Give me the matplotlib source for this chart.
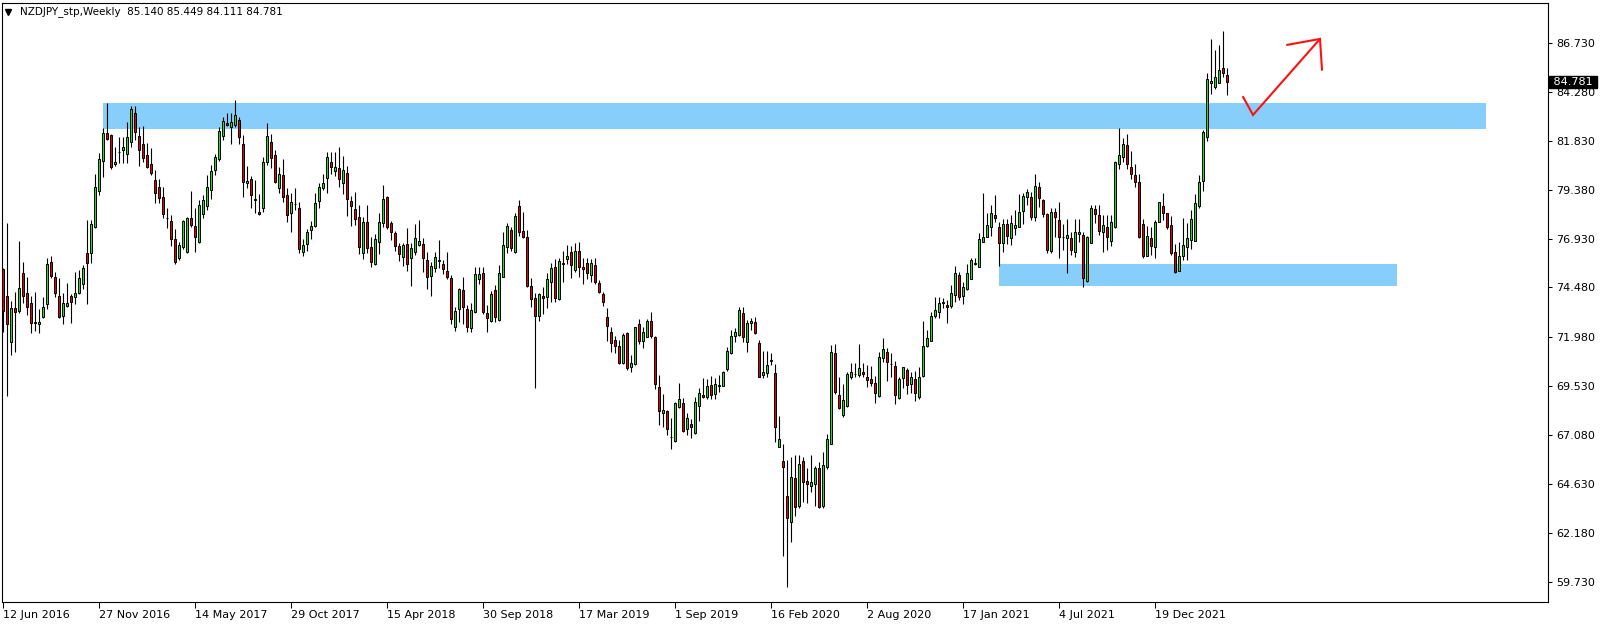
import matplotlib
matplotlib.use("Agg")
import matplotlib.pyplot as plt
from matplotlib.patches import Rectangle
import matplotlib.transforms as mtransforms

# ---------------------------------------------------------------
# datos: velas semanales NZDJPY
# ---------------------------------------------------------------
symbol = "NZDJPY_stp,Weekly"
last_ohlc = ["85.140", "85.449", "84.111", "84.781"]

opens = [
    75.39, 74.05, 71.73, 73.44, 73.32, 75.19, 74.19, 73.69, 72.74, 72.63,
    73.02, 73.64, 75.74, 74.99, 74.07, 73.07, 73.57, 74.07, 73.99, 74.22,
    74.64, 76.19, 76.22, 77.49, 79.33, 80.79, 82.20, 82.12, 80.65, 81.25,
    81.37, 81.17, 81.75, 83.21, 82.07, 81.67, 81.10, 80.67, 79.87, 79.53,
    79.00, 77.97, 77.83, 76.89, 75.94, 76.49, 76.24, 77.94, 77.56, 76.78,
    78.16, 78.56, 79.35, 80.37, 80.90, 82.09, 82.70, 82.54, 82.62, 82.85,
    81.65, 79.70, 79.90, 78.85, 78.25, 78.45, 80.75, 81.75, 81.10, 79.45,
    80.12, 79.10, 78.20, 78.65, 78.45, 76.24, 76.64, 77.35, 77.56, 78.82,
    79.45, 79.95, 80.75, 80.33, 80.45, 79.73, 80.20, 78.81, 78.40, 78.00,
    76.19, 77.75, 76.49, 75.64, 76.78, 77.70, 79.00, 77.70, 77.19, 76.56,
    75.98, 76.66, 75.94, 76.28, 76.61, 76.66, 75.86, 75.06, 75.44, 75.84,
    75.66, 75.31, 74.94, 72.52, 73.39, 74.36, 73.39, 72.47, 73.27, 74.89,
    75.19, 73.19, 72.82, 74.36, 72.85, 75.02, 76.49, 77.36, 76.24, 78.58,
    77.31, 76.99, 74.56, 73.94, 73.07, 74.06, 73.99, 74.74, 75.49, 73.89,
    75.72, 75.89, 76.26, 75.34, 76.31, 75.49, 75.69, 75.09, 75.59, 74.69,
    74.16, 73.00, 72.27, 71.85, 71.55, 70.68, 72.18, 70.47, 70.63, 72.64,
    71.80, 72.02, 72.80, 71.98, 69.48, 68.21, 68.29, 67.01, 66.79, 68.48,
    68.71, 67.38, 67.63, 67.19, 68.54, 69.09, 68.98, 69.60, 69.13, 69.53,
    69.56, 70.40, 71.18, 72.07, 72.10, 73.19, 71.77, 72.69, 72.77, 71.68,
    70.10, 70.18, 70.81, 70.18, 66.51, 65.79, 64.03, 62.71, 64.92, 63.55,
    65.77, 64.79, 64.54, 64.62, 65.42, 63.55, 65.50, 66.64, 71.18, 69.10,
    68.08, 68.56, 70.01, 70.16, 70.10, 70.23, 70.01, 69.88, 69.68, 69.04,
    70.93, 71.27, 70.63, 70.55, 68.93, 69.93, 70.35, 69.63, 69.90, 69.01,
    70.06, 71.57, 71.82, 73.07, 73.24, 73.72, 73.60, 73.55, 74.10, 75.11,
    74.07, 74.39, 74.89, 75.64, 75.52, 76.78, 77.03, 77.53, 78.11, 77.49,
    76.69, 77.66, 76.94, 77.45, 77.49, 78.33, 79.03, 78.99, 77.99, 79.50,
    78.86, 78.16, 76.33, 78.25, 77.86, 77.00, 76.98, 76.94, 76.28, 77.16,
    77.11, 74.82, 76.69, 78.40, 78.11, 77.24, 77.49, 76.83, 77.53, 80.67,
    81.00, 81.62, 80.50, 80.12, 79.75, 77.66, 76.07, 76.94, 76.53, 77.78,
    78.56, 78.23, 77.61, 76.24, 75.32, 76.07, 76.53, 76.86, 76.83, 78.58,
    79.83, 82.04, 84.71, 84.54, 84.74, 85.46, 85.140,
]
highs = [
    75.44, 77.69, 73.80, 74.24, 76.81, 75.74, 74.99, 74.05, 74.24, 73.39,
    73.99, 75.94, 76.06, 75.27, 74.94, 74.19, 74.69, 74.14, 75.24, 75.36,
    75.61, 77.86, 77.86, 80.17, 81.24, 82.45, 83.71, 82.15, 81.50, 82.00,
    82.00, 82.79, 83.57, 83.57, 82.54, 82.57, 81.70, 81.45, 80.37, 79.90,
    79.53, 78.45, 78.11, 77.39, 76.78, 77.86, 78.03, 79.31, 78.48, 78.86,
    79.11, 80.12, 80.62, 81.17, 82.50, 83.00, 83.21, 83.21, 83.87, 83.04,
    82.12, 80.57, 80.07, 79.87, 79.16, 81.00, 82.71, 82.17, 81.37, 80.50,
    80.92, 79.45, 79.20, 79.45, 78.75, 76.91, 77.40, 77.81, 79.20, 79.70,
    80.15, 81.29, 81.29, 81.29, 81.50, 81.07, 80.57, 79.08, 79.25, 78.61,
    78.03, 78.61, 76.99, 77.14, 78.23, 79.62, 79.08, 77.81, 77.31, 76.69,
    76.69, 77.48, 76.69, 77.66, 77.86, 76.94, 76.24, 75.74, 76.24, 76.86,
    75.86, 76.28, 75.11, 73.52, 74.47, 75.02, 73.60, 73.69, 75.52, 75.52,
    75.52, 73.60, 74.32, 74.61, 75.61, 77.24, 77.69, 77.53, 78.20, 78.86,
    78.25, 77.36, 74.94, 74.19, 74.19, 74.52, 75.19, 75.72, 75.91, 75.94,
    76.31, 76.61, 76.56, 76.69, 76.74, 75.94, 75.97, 75.91, 75.94, 74.86,
    74.27, 73.45, 72.48, 72.07, 71.85, 72.22, 72.24, 71.10, 72.52, 72.90,
    72.52, 72.90, 73.27, 72.07, 70.10, 69.15, 68.34, 67.93, 68.76, 69.68,
    68.93, 68.21, 67.89, 69.01, 69.43, 69.93, 69.90, 70.02, 69.93, 70.10,
    70.31, 71.52, 72.35, 72.47, 73.52, 73.52, 72.85, 72.95, 73.00, 71.85,
    71.30, 71.30, 71.18, 70.63, 68.04, 66.64, 65.84, 65.96, 66.09, 66.09,
    66.00, 65.42, 66.09, 65.54, 65.75, 66.22, 67.12, 71.60, 71.65, 69.98,
    69.63, 70.26, 70.71, 70.68, 71.63, 70.68, 70.60, 70.55, 70.05, 71.27,
    71.93, 71.43, 71.18, 70.77, 70.01, 70.51, 70.43, 70.26, 70.30, 70.47,
    72.82, 72.35, 73.27, 74.02, 74.02, 73.97, 73.85, 74.61, 75.56, 75.27,
    74.74, 75.66, 75.94, 75.97, 77.19, 79.20, 78.20, 78.61, 79.12, 77.78,
    77.91, 77.91, 78.11, 78.36, 79.16, 79.20, 79.42, 79.28, 80.15, 79.78,
    78.91, 78.23, 78.45, 78.45, 78.75, 77.66, 77.91, 77.28, 77.91, 77.91,
    77.24, 77.06, 78.61, 78.61, 78.61, 78.11, 78.11, 78.11, 80.82, 82.45,
    81.95, 82.15, 81.32, 80.67, 80.17, 77.90, 77.56, 77.49, 77.86, 78.78,
    79.23, 78.23, 78.08, 76.66, 76.78, 77.95, 77.73, 78.36, 79.16, 80.12,
    82.37, 85.24, 86.93, 86.38, 86.63, 87.33, 85.449,
]
lows = [
    72.27, 69.06, 71.07, 71.23, 73.19, 73.69, 73.10, 72.18, 72.32, 72.18,
    72.93, 73.40, 74.97, 74.02, 72.93, 72.63, 73.49, 72.68, 73.64, 74.14,
    74.40, 73.64, 75.72, 77.48, 79.11, 80.03, 81.87, 80.42, 80.58, 80.70,
    80.70, 80.70, 81.54, 81.87, 80.57, 80.75, 80.45, 80.12, 78.70, 78.73,
    77.95, 77.44, 76.56, 75.64, 75.86, 76.39, 76.19, 77.53, 76.24, 76.69,
    77.95, 78.36, 78.90, 80.12, 80.82, 81.87, 82.57, 81.65, 82.54, 81.65,
    79.03, 79.48, 78.45, 78.23, 78.11, 78.25, 80.62, 80.45, 79.73, 79.23,
    78.78, 77.78, 77.28, 78.36, 76.19, 76.03, 76.31, 76.89, 77.53, 78.48,
    79.37, 79.20, 80.17, 80.08, 79.53, 79.16, 78.06, 77.58, 77.61, 76.14,
    75.89, 76.23, 75.49, 75.60, 76.14, 77.50, 77.39, 76.86, 76.33, 75.78,
    75.56, 75.32, 74.56, 76.11, 76.58, 75.27, 74.39, 74.06, 75.27, 75.44,
    75.14, 74.91, 72.65, 72.30, 72.74, 72.64, 72.27, 72.24, 73.22, 74.64,
    73.14, 72.27, 72.74, 72.77, 72.82, 74.99, 76.19, 76.31, 76.23, 77.06,
    76.94, 74.49, 73.52, 69.46, 72.82, 73.15, 73.44, 73.77, 73.77, 73.85,
    74.77, 75.66, 74.97, 75.27, 75.02, 74.66, 74.91, 74.74, 74.66, 74.19,
    73.55, 71.80, 71.25, 71.18, 70.65, 70.63, 70.35, 70.23, 70.60, 71.63,
    71.47, 71.98, 71.93, 69.40, 67.59, 67.51, 67.09, 66.39, 66.76, 68.46,
    67.22, 67.09, 66.92, 67.12, 67.79, 68.93, 68.88, 68.90, 68.88, 69.26,
    69.56, 70.30, 71.13, 71.77, 72.07, 71.77, 71.22, 72.35, 72.15, 69.98,
    69.93, 69.98, 70.60, 66.76, 66.47, 61.00, 59.46, 61.75, 63.03, 63.42,
    63.75, 63.70, 64.25, 63.55, 63.45, 63.45, 65.39, 66.62, 69.13, 68.38,
    68.01, 68.48, 69.90, 70.01, 70.01, 69.98, 69.51, 69.56, 68.71, 69.01,
    70.72, 69.81, 70.01, 68.63, 68.88, 69.43, 69.14, 69.18, 68.81, 68.89,
    69.98, 71.52, 71.82, 72.94, 72.97, 73.44, 72.69, 73.47, 73.77, 73.85,
    73.64, 74.36, 74.89, 75.61, 75.52, 76.78, 77.03, 77.06, 77.75, 75.57,
    76.28, 76.66, 76.61, 77.11, 77.49, 77.66, 78.61, 77.86, 77.83, 78.53,
    78.03, 76.23, 76.19, 77.03, 75.94, 76.36, 75.22, 76.11, 75.98, 76.78,
    74.52, 74.74, 76.69, 77.73, 77.11, 76.28, 76.36, 76.58, 77.45, 80.42,
    80.78, 80.42, 79.90, 79.50, 76.98, 75.94, 76.07, 76.11, 75.97, 77.78,
    77.86, 77.39, 76.11, 75.19, 75.32, 75.86, 75.86, 76.39, 76.83, 78.48,
    79.31, 81.84, 84.18, 84.41, 84.74, 85.01, 84.111,
]
closes = [
    73.32, 72.63, 73.44, 73.27, 74.44, 74.07, 73.52, 72.69, 72.72, 72.74,
    73.52, 75.64, 75.07, 74.19, 73.02, 73.69, 73.69, 73.74, 74.22, 74.94,
    75.44, 75.72, 77.64, 79.50, 80.90, 82.20, 81.90, 80.53, 80.77, 81.27,
    81.50, 82.04, 83.41, 82.25, 81.37, 80.95, 80.53, 80.20, 79.20, 78.95,
    78.15, 77.96, 76.93, 75.77, 76.61, 77.81, 77.96, 77.61, 76.99, 78.61,
    78.86, 79.50, 80.32, 81.00, 82.34, 82.84, 82.61, 82.75, 83.10, 82.00,
    79.78, 79.82, 79.10, 78.90, 78.18, 80.75, 82.07, 80.98, 79.78, 80.15,
    79.00, 78.11, 78.75, 78.66, 76.39, 76.61, 77.25, 77.56, 78.70, 79.50,
    79.70, 81.00, 80.50, 80.50, 79.90, 80.37, 78.90, 78.56, 77.90, 76.49,
    77.75, 76.44, 75.74, 76.89, 77.75, 78.90, 77.53, 77.24, 76.56, 76.14,
    76.61, 75.64, 76.44, 76.94, 76.81, 75.94, 74.99, 75.56, 75.99, 75.82,
    75.41, 75.02, 72.89, 73.30, 74.39, 73.52, 72.52, 73.35, 75.16, 75.16,
    73.24, 72.97, 74.16, 72.99, 75.19, 76.61, 77.56, 76.48, 78.06, 77.28,
    76.99, 74.57, 73.89, 73.07, 74.14, 73.94, 74.89, 75.44, 73.97, 75.81,
    75.66, 76.06, 75.61, 76.31, 75.52, 75.39, 75.19, 75.69, 74.77, 74.27,
    73.77, 72.55, 71.68, 71.57, 70.71, 72.10, 70.43, 70.68, 72.49, 71.82,
    72.24, 72.80, 72.07, 69.63, 68.29, 68.34, 67.38, 67.00, 68.68, 68.88,
    67.31, 67.93, 67.47, 68.73, 69.18, 68.98, 69.55, 69.09, 69.63, 69.60,
    70.23, 71.30, 72.05, 72.24, 73.35, 72.02, 72.69, 72.80, 72.18, 70.01,
    70.26, 70.60, 70.82, 67.51, 66.89, 65.47, 62.91, 64.97, 63.47, 65.62,
    64.75, 64.62, 64.75, 65.42, 63.50, 65.59, 66.89, 71.23, 69.23, 68.46,
    68.84, 70.15, 70.23, 70.15, 70.46, 70.13, 69.85, 69.68, 69.18, 70.98,
    71.40, 70.73, 70.62, 69.09, 69.90, 70.47, 69.60, 70.01, 69.18, 69.98,
    71.57, 71.93, 73.05, 73.35, 73.69, 73.74, 73.49, 74.19, 75.19, 74.02,
    74.49, 75.19, 75.86, 75.72, 76.89, 76.99, 77.61, 78.20, 77.98, 76.73,
    77.66, 77.08, 77.70, 77.61, 78.28, 79.06, 79.25, 78.03, 79.57, 78.95,
    78.15, 76.36, 78.25, 78.03, 77.03, 76.99, 77.11, 76.36, 77.24, 77.24,
    74.97, 76.99, 78.45, 78.15, 77.33, 77.61, 77.03, 77.74, 80.75, 81.12,
    81.67, 80.65, 80.15, 79.75, 77.03, 76.07, 77.06, 76.57, 77.75, 78.75,
    78.23, 77.53, 76.22, 75.27, 76.06, 76.59, 76.94, 77.90, 78.70, 79.78,
    82.25, 84.91, 84.83, 85.04, 85.38, 85.21, 84.781,
]

fechas = ["12 Jun 2016", "27 Nov 2016", "14 May 2017", "29 Oct 2017",
          "15 Apr 2018", "30 Sep 2018", "17 Mar 2019", "1 Sep 2019",
          "16 Feb 2020", "2 Aug 2020", "17 Jan 2021", "4 Jul 2021",
          "19 Dec 2021"]
fechas_barra = [0, 24, 48, 72, 96, 120, 144, 168, 192, 216, 240, 264, 288]

precios_eje = [86.730, 84.280, 81.830, 79.380, 76.930, 74.480,
               71.980, 69.530, 67.080, 64.630, 62.180, 59.730]

# zonas (precio bajo, precio alto) y barras (desde, hasta)
zona_alta = (82.42, 83.74)
zona_alta_barras = (25, 370.75)
zona_baja = (74.56, 75.66)
zona_baja_barras = (249, 348.5)

# flecha roja dibujada a mano
flecha_x = [310, 312.5, 329.25]
flecha_y = [84.03, 83.12, 86.93]
punta_x = [321, 329.25, 329.75]
punta_y = [86.63, 86.93, 85.38]

# ---------------------------------------------------------------
plt.rcParams['font.family'] = ['DejaVu Sans']

W, H = 1604, 625
fig = plt.figure(figsize=(W / 100, H / 100), dpi=100)
ax = fig.add_axes([2 / W, 23 / H, 1546 / W, 599 / H])
ax.set_xlim(-0.25, 386.25)
ax.set_ylim(58.72, 88.73)

celeste = '#87cefa'
for (p0, p1), (b0, b1) in [(zona_alta, zona_alta_barras), (zona_baja, zona_baja_barras)]:
    ax.add_patch(Rectangle((b0, p0), b1 - b0, p1 - p0, facecolor=celeste,
                           edgecolor='none', zorder=1))

x = list(range(len(closes)))
ax.vlines(x, lows, highs, color='black', linewidth=0.8, zorder=2)

bottoms, heights, colores = [], [], []
for o, c in zip(opens, closes):
    bottoms.append(min(o, c))
    heights.append(max(abs(c - o), 0.01))
    colores.append('#1fdd1f' if c >= o else '#e00000')
ax.bar(x, heights, bottom=bottoms, width=0.62, color=colores,
       edgecolor='black', linewidth=0.7, zorder=3)

ax.plot(flecha_x, flecha_y, color='#ff1010', linewidth=1.5, zorder=5,
        solid_capstyle='round', solid_joinstyle='miter')
ax.plot(punta_x, punta_y, color='#ff1010', linewidth=1.5, zorder=5,
        solid_capstyle='round', solid_joinstyle='miter')

# ejes estilo MT4
for s in ax.spines.values():
    s.set_color('black')
    s.set_linewidth(0.8)
ax.yaxis.tick_right()
ax.set_yticks(precios_eje)
ax.set_yticklabels(['%.3f' % p for p in precios_eje])
ax.tick_params(axis='y', direction='out', length=3, width=0.75, pad=3,
               labelsize=8, colors='black')
ax.set_xticks(fechas_barra)
ax.set_xticklabels(fechas, ha='left')
ax.tick_params(axis='x', direction='out', length=4, width=0.75, pad=2,
               labelsize=8, colors='black')

# etiqueta del ultimo precio
trans = mtransforms.blended_transform_factory(ax.transAxes, ax.transData)
ax.text(1.0 + 2 / 1546, closes[-1], ' ' + last_ohlc[3] + ' ', transform=trans,
        ha='left', va='center', color='white', fontsize=8, zorder=10,
        clip_on=False,
        bbox=dict(boxstyle='square,pad=0.1', facecolor='black', edgecolor='black'))

# encabezado
ax.plot([6 / 1546], [0.985], marker='v', color='black', markersize=5,
        transform=ax.transAxes, clip_on=False)
ax.text(18 / 1546, 0.985, symbol + '  ' + ' '.join(last_ohlc),
        transform=ax.transAxes, ha='left', va='center', fontsize=7.5,
        color='black')

fig.savefig('out.png', dpi=100, facecolor='white')
